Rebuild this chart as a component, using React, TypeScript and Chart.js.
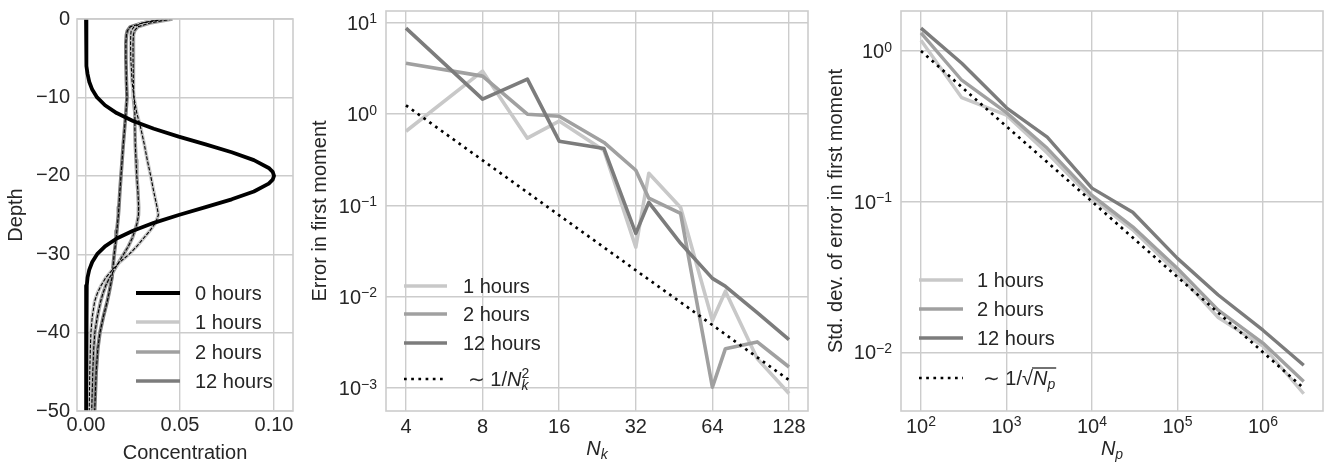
import React, { useEffect, useRef } from 'react';
import { Chart, registerables } from 'chart.js';

Chart.register(...registerables);

const FONT = '"Liberation Sans", Arial, "DejaVu Sans", sans-serif';
const TEXT = '#262626';
const GRID = '#cccccc';
const BLACK = '#000000';
const COL_1H = '#c8c8c8';
const COL_2H = '#a0a0a0';
const COL_12H = '#7c7c7c';

// ---------- Panel 1: concentration profiles ----------
const depth0h = [0, -4, -6, -7, -8, -9, -10, -11, -12, -13, -14, -15, -16, -17, -18, -19, -19.5, -20, -20.5, -21, -22, -23, -24, -25, -26, -27, -28, -29, -30, -31, -32, -33, -34, -36, -50];
const conc0h = [0, 0, 0.0004, 0.0008, 0.0017, 0.0033, 0.0059, 0.0101, 0.0163, 0.025, 0.0361, 0.0493, 0.0636, 0.0775, 0.0893, 0.0972, 0.0993, 0.1, 0.0993, 0.0972, 0.0893, 0.0775, 0.0636, 0.0493, 0.0361, 0.025, 0.0163, 0.0101, 0.0059, 0.0033, 0.0017, 0.0008, 0.0004, 0.0001, 0];
const depthLater = [0, -0.25, -0.5, -1, -1.5, -2, -3, -5, -8, -10, -12, -14, -16, -18, -20, -22, -24, -25, -26, -27, -28, -29, -30, -31, -32, -33, -34, -35, -36, -38, -40, -42, -45, -50];
const conc1h = [0.042, 0.035, 0.030, 0.0255, 0.024, 0.0238, 0.0237, 0.0238, 0.0245, 0.0255, 0.027, 0.0292, 0.031, 0.0326, 0.0344, 0.036, 0.0378, 0.0385, 0.037, 0.034, 0.0305, 0.027, 0.023, 0.018, 0.014, 0.0105, 0.008, 0.006, 0.0046, 0.0033, 0.0026, 0.0023, 0.002, 0.0017];
const conc2h = [0.046, 0.040, 0.034, 0.0275, 0.0258, 0.0252, 0.025, 0.025, 0.0252, 0.0255, 0.026, 0.026, 0.0262, 0.0266, 0.027, 0.0276, 0.028, 0.0279, 0.0272, 0.026, 0.0245, 0.0225, 0.020, 0.0175, 0.015, 0.0125, 0.0105, 0.009, 0.0078, 0.006, 0.0047, 0.0041, 0.0036, 0.003];
const conc12h = [0.044, 0.036, 0.030, 0.0235, 0.022, 0.0215, 0.0212, 0.0212, 0.0215, 0.0218, 0.0212, 0.0205, 0.0198, 0.0192, 0.0186, 0.018, 0.0175, 0.0172, 0.0168, 0.0164, 0.016, 0.0155, 0.015, 0.0146, 0.0142, 0.0138, 0.013, 0.0122, 0.0113, 0.0092, 0.0074, 0.0063, 0.0054, 0.0046];
const concTicks = [0, 0.05, 0.1];
const depthTicks = [-50, -40, -30, -20, -10, 0];
const profileLabels = ['0 hours', '1 hours', '2 hours', '12 hours'];

// ---------- Panel 2: error vs N_k ----------
const nk = [4, 8, 12, 16, 24, 32, 36, 48, 64, 72, 96, 128];
const err1h = [0.65, 2.96, 0.546, 0.84, 0.40, 0.035, 0.225, 0.095, 0.0055, 0.0115, 0.0021, 0.00087];
const err2h = [3.62, 2.61, 1.0, 0.95, 0.49, 0.243, 0.12, 0.082, 0.00102, 0.0027, 0.0032, 0.0017];
const err12h = [8.77, 1.46, 2.42, 0.506, 0.42, 0.0495, 0.108, 0.0385, 0.0159, 0.013, 0.0067, 0.0034];
const errRef = [1.25, 0.3125, 0.139, 0.078, 0.0347, 0.0195, 0.0154, 0.0087, 0.0049, 0.00386, 0.00217, 0.00122];
const nkTicks = [4, 8, 16, 32, 64, 128];
const errTickExps = [-3, -2, -1, 0, 1];

// ---------- Panel 3: std dev vs N_p ----------
const np = [1e2, 3e2, 1e3, 3e3, 1e4, 3e4, 1e5, 3e5, 1e6, 3e6];
const std1h = [1.18, 0.49, 0.375, 0.21, 0.105, 0.065, 0.0335, 0.017, 0.011, 0.0053];
const std2h = [1.32, 0.64, 0.39, 0.226, 0.11, 0.068, 0.036, 0.019, 0.0115, 0.0064];
const std12h = [1.42, 0.83, 0.42, 0.268, 0.123, 0.085, 0.042, 0.024, 0.014, 0.0082];
const stdRef = [1.0, 0.577, 0.316, 0.183, 0.1, 0.0577, 0.0316, 0.0183, 0.01, 0.00577];
const npTickExps = [2, 3, 4, 5, 6];
const stdTickExps = [-2, -1, 0];
const convLabels = ['1 hours', '2 hours', '12 hours'];

// ---------- helpers ----------
type Piece = { t: string; size?: number; dy?: number; italic?: boolean; stack?: boolean; over?: boolean };

const fontStr = (size: number, italic?: boolean) => `${italic ? 'italic ' : ''}${size}px ${FONT}`;

function drawRich(ctx: CanvasRenderingContext2D, pieces: Piece[], x: number, baseline: number, align: 'left' | 'center' | 'right', base = 20, color = TEXT) {
  ctx.save();
  let cx = 0;
  let lastStart = 0;
  const items: { p: Piece; size: number; start: number; w: number }[] = [];
  for (const p of pieces) {
    const size = p.size ?? base;
    ctx.font = fontStr(size, p.italic);
    const w = ctx.measureText(p.t).width;
    const start = p.stack ? lastStart : cx;
    items.push({ p, size, start, w });
    cx = Math.max(cx, start + w);
    if (!p.stack) lastStart = start;
  }
  const width = cx;
  const x0 = align === 'left' ? x : align === 'right' ? x - width : x - width / 2;
  ctx.fillStyle = color;
  ctx.textAlign = 'left';
  ctx.textBaseline = 'alphabetic';
  let oS = Infinity;
  let oE = -Infinity;
  for (const it of items) {
    ctx.font = fontStr(it.size, it.p.italic);
    ctx.fillText(it.p.t, x0 + it.start, baseline + (it.p.dy ?? 0));
    if (it.p.over) {
      oS = Math.min(oS, x0 + it.start);
      oE = Math.max(oE, x0 + it.start + it.w);
    }
  }
  if (oE > oS) {
    ctx.strokeStyle = color;
    ctx.lineWidth = 1.3;
    ctx.beginPath();
    ctx.moveTo(oS - 1, baseline - 0.86 * base);
    ctx.lineTo(oE + 1, baseline - 0.86 * base);
    ctx.stroke();
  }
  ctx.restore();
}

const powLabel = (e: number): Piece[] => [
  { t: '10' },
  { t: e < 0 ? '\u2212' + Math.abs(e) : String(e), size: 14, dy: -6.7 },
];

const pts = (xs: number[], ys: number[]) => xs.map((x, i) => ({ x, y: ys[i] }));

const line = (label: string, data: { x: number; y: number }[], color: string, width: number, dash: number[] = []) => ({
  label,
  data,
  borderColor: color,
  backgroundColor: color,
  borderWidth: width,
  borderDash: dash,
  borderJoinStyle: 'round' as const,
  pointRadius: 0,
  pointHoverRadius: 0,
  showLine: true,
  tension: 0,
  fill: false,
  clip: 0,
});

const spinePlugin = {
  id: 'spines',
  afterDatasetsDraw(chart: any) {
    const { ctx, chartArea: a } = chart;
    ctx.save();
    ctx.strokeStyle = GRID;
    ctx.lineWidth = 1.6;
    ctx.strokeRect(a.left, a.top, a.right - a.left, a.bottom - a.top);
    ctx.restore();
  },
};

type LegendItem = { color: string; width: number; dash?: number[]; pieces: Piece[]; textX: number; y: number };

const legendPlugin = (id: string, items: LegendItem[], x1: number, x2: number, canvasLeft: number) => ({
  id,
  afterDraw(chart: any) {
    const ctx: CanvasRenderingContext2D = chart.ctx;
    for (const it of items) {
      ctx.save();
      ctx.strokeStyle = it.color;
      ctx.lineWidth = it.width;
      ctx.setLineDash(it.dash ?? []);
      ctx.beginPath();
      ctx.moveTo(x1 - canvasLeft, it.y);
      ctx.lineTo(x2 - canvasLeft, it.y);
      ctx.stroke();
      ctx.restore();
      drawRich(ctx, it.pieces, it.textX - canvasLeft, it.y + 7.2, 'left');
    }
  },
});

type TickSpec = { values: number[]; labels: Piece[][] };

const tickPlugin = (id: string, xt: TickSpec | null, yt: TickSpec | null, xTitle: Piece[] | null) => ({
  id,
  afterDraw(chart: any) {
    const ctx: CanvasRenderingContext2D = chart.ctx;
    const a = chart.chartArea;
    if (xt) {
      xt.values.forEach((v, i) => {
        const px = chart.scales.x.getPixelForValue(v);
        drawRich(ctx, xt.labels[i], px, a.bottom + 22, 'center');
      });
    }
    if (yt) {
      yt.values.forEach((v, i) => {
        const py = chart.scales.y.getPixelForValue(v);
        drawRich(ctx, yt.labels[i], a.left - 9, py + 7.2, 'right');
      });
    }
    if (xTitle) {
      drawRich(ctx, xTitle, (a.left + a.right) / 2, 455, 'center');
    }
  },
});

const gridOpts = { color: GRID, lineWidth: 1.4, drawTicks: false };
const titleFont = { size: 20, family: FONT };

const baseOptions = (padRight: number) => ({
  animation: false as const,
  responsive: false,
  devicePixelRatio: 1,
  events: [] as any[],
  layout: { padding: { left: 0, top: 11, right: padRight, bottom: 0 } },
  plugins: { legend: { display: false }, tooltip: { enabled: false } },
});

// ---------- layout ----------
const P1 = { left: 0, width: 300, yw: 77, pr: 7 };
const P2 = { left: 304, width: 516, yw: 82, pr: 12 };
const P3 = { left: 820, width: 518, yw: 81, pr: 15 };

function config1(): any {
  const dash = [3.7, 1.6];
  return {
    type: 'scatter',
    data: {
      datasets: [
        line(profileLabels[0], pts(conc0h, depth0h), BLACK, 3.8),
        line('', pts(conc1h, depthLater), BLACK, 1.1, dash),
        line('', pts(conc2h, depthLater), BLACK, 1.1, dash),
        line('', pts(conc12h, depthLater), BLACK, 1.1, dash),
        line(profileLabels[1], pts(conc1h, depthLater), COL_1H, 3.6),
        line(profileLabels[2], pts(conc2h, depthLater), COL_2H, 3.6),
        line(profileLabels[3], pts(conc12h, depthLater), COL_12H, 3.6),
      ],
    },
    options: {
      ...baseOptions(P1.pr),
      scales: {
        x: {
          type: 'linear',
          min: -0.0048,
          max: 0.1101,
          afterBuildTicks: (s: any) => { s.ticks = concTicks.map((v) => ({ value: v })); },
          ticks: { font: titleFont, color: TEXT, padding: 2, autoSkip: false, maxRotation: 0, callback: (v: any) => Number(v).toFixed(2) },
          grid: gridOpts,
          border: { display: false },
          title: { display: true, text: 'Concentration', font: titleFont, color: TEXT, padding: { top: 4, bottom: 7 } },
          afterFit: (s: any) => { s.height = 61; },
        },
        y: {
          type: 'linear',
          min: -50,
          max: 0,
          afterBuildTicks: (s: any) => { s.ticks = depthTicks.map((v) => ({ value: v })); },
          ticks: { font: titleFont, color: TEXT, padding: 7, autoSkip: false, callback: (v: any) => (v < 0 ? '\u2212' + Math.abs(v) : String(v)) },
          grid: gridOpts,
          border: { display: false },
          title: { display: true, text: 'Depth', font: titleFont, color: TEXT, padding: { top: 4, bottom: 4 } },
          afterFit: (s: any) => { s.width = P1.yw; },
        },
      },
    },
    plugins: [
      spinePlugin,
      legendPlugin('leg1', [
        { color: BLACK, width: 3.8, pieces: [{ t: profileLabels[0] }], textX: 195, y: 293 },
        { color: COL_1H, width: 3.6, pieces: [{ t: profileLabels[1] }], textX: 195, y: 322 },
        { color: COL_2H, width: 3.6, pieces: [{ t: profileLabels[2] }], textX: 195, y: 352 },
        { color: COL_12H, width: 3.6, pieces: [{ t: profileLabels[3] }], textX: 195, y: 381 },
      ], 136, 180, P1.left),
    ],
  };
}

function config2(): any {
  const dot = [2.7, 4.5];
  return {
    type: 'scatter',
    data: {
      datasets: [
        line('ref', pts(nk, errRef), BLACK, 2.7, dot),
        line(convLabels[2], pts(nk, err12h), COL_12H, 3.6),
        line(convLabels[1], pts(nk, err2h), COL_2H, 3.6),
        line(convLabels[0], pts(nk, err1h), COL_1H, 3.6),
      ],
    },
    options: {
      ...baseOptions(P2.pr),
      scales: {
        x: {
          type: 'logarithmic',
          min: 3.339,
          max: 152,
          afterBuildTicks: (s: any) => { s.ticks = nkTicks.map((v) => ({ value: v })); },
          ticks: { display: false },
          grid: gridOpts,
          border: { display: false },
          afterFit: (s: any) => { s.height = 61; },
        },
        y: {
          type: 'logarithmic',
          min: 0.00056,
          max: 13.5,
          afterBuildTicks: (s: any) => { s.ticks = errTickExps.map((e) => ({ value: Math.pow(10, e) })); },
          ticks: { display: false },
          grid: gridOpts,
          border: { display: false },
          title: { display: true, text: 'Error in first moment', font: titleFont, color: TEXT, padding: { top: 4, bottom: 4 } },
          afterFit: (s: any) => { s.width = P2.yw; },
        },
      },
    },
    plugins: [
      spinePlugin,
      tickPlugin(
        'ticks2',
        { values: nkTicks, labels: nkTicks.map((v) => [{ t: String(v) }]) },
        { values: errTickExps.map((e) => Math.pow(10, e)), labels: errTickExps.map(powLabel) },
        [{ t: 'N', italic: true }, { t: 'k', size: 14, dy: 4, italic: true }],
      ),
      legendPlugin('leg2', [
        { color: COL_1H, width: 3.6, pieces: [{ t: convLabels[0] }], textX: 463, y: 286 },
        { color: COL_2H, width: 3.6, pieces: [{ t: convLabels[1] }], textX: 463, y: 314 },
        { color: COL_12H, width: 3.6, pieces: [{ t: convLabels[2] }], textX: 463, y: 343 },
        {
          color: BLACK, width: 2.7, dash: dot, textX: 468, y: 379,
          pieces: [
            { t: '\u223C 1/' },
            { t: 'N', italic: true },
            { t: 'k', size: 14, dy: 4, italic: true },
            { t: '2', size: 14, dy: -8, stack: true },
          ],
        },
      ], 404, 447, P2.left),
    ],
  };
}

function config3(): any {
  const dot = [2.7, 4.5];
  return {
    type: 'scatter',
    data: {
      datasets: [
        line('ref', pts(np, stdRef), BLACK, 2.7, dot),
        line(convLabels[2], pts(np, std12h), COL_12H, 3.4),
        line(convLabels[1], pts(np, std2h), COL_2H, 3.4),
        line(convLabels[0], pts(np, std1h), COL_1H, 3.4),
      ],
    },
    options: {
      ...baseOptions(P3.pr),
      scales: {
        x: {
          type: 'logarithmic',
          min: 58.4,
          max: 5.04e6,
          afterBuildTicks: (s: any) => { s.ticks = npTickExps.map((e) => ({ value: Math.pow(10, e) })); },
          ticks: { display: false },
          grid: gridOpts,
          border: { display: false },
          afterFit: (s: any) => { s.height = 61; },
        },
        y: {
          type: 'logarithmic',
          min: 0.00407,
          max: 1.845,
          afterBuildTicks: (s: any) => { s.ticks = stdTickExps.map((e) => ({ value: Math.pow(10, e) })); },
          ticks: { display: false },
          grid: gridOpts,
          border: { display: false },
          title: { display: true, text: 'Std. dev. of error in first moment', font: titleFont, color: TEXT, padding: { top: 4, bottom: 4 } },
          afterFit: (s: any) => { s.width = P3.yw; },
        },
      },
    },
    plugins: [
      spinePlugin,
      tickPlugin(
        'ticks3',
        { values: npTickExps.map((e) => Math.pow(10, e)), labels: npTickExps.map(powLabel) },
        { values: stdTickExps.map((e) => Math.pow(10, e)), labels: stdTickExps.map(powLabel) },
        [{ t: 'N', italic: true }, { t: 'p', size: 14, dy: 4, italic: true }],
      ),
      legendPlugin('leg3', [
        { color: COL_1H, width: 3.4, pieces: [{ t: convLabels[0] }], textX: 977, y: 280 },
        { color: COL_2H, width: 3.4, pieces: [{ t: convLabels[1] }], textX: 977, y: 309 },
        { color: COL_12H, width: 3.4, pieces: [{ t: convLabels[2] }], textX: 977, y: 338 },
        {
          color: BLACK, width: 2.7, dash: dot, textX: 983, y: 378,
          pieces: [
            { t: '\u223C 1/\u221A' },
            { t: 'N', italic: true, over: true },
            { t: 'p', size: 14, dy: 4, italic: true, over: true },
          ],
        },
      ], 919, 963, P3.left),
    ],
  };
}

export default function App() {
  const r1 = useRef<HTMLCanvasElement>(null);
  const r2 = useRef<HTMLCanvasElement>(null);
  const r3 = useRef<HTMLCanvasElement>(null);

  useEffect(() => {
    Chart.defaults.font.family = FONT;
    Chart.defaults.color = TEXT;
    const charts = [
      new Chart(r1.current as HTMLCanvasElement, config1()),
      new Chart(r2.current as HTMLCanvasElement, config2()),
      new Chart(r3.current as HTMLCanvasElement, config3()),
    ];
    return () => charts.forEach((c) => c.destroy());
  }, []);

  const cs = (left: number, width: number): React.CSSProperties => ({ position: 'absolute', left, top: 0, width, height: 472 });

  return (
    <div style={{ position: 'absolute', left: 0, top: 0, width: 1338, height: 472, background: '#ffffff', overflow: 'hidden' }}>
      <canvas ref={r1} width={P1.width} height={472} style={cs(P1.left, P1.width)} />
      <canvas ref={r2} width={P2.width} height={472} style={cs(P2.left, P2.width)} />
      <canvas ref={r3} width={P3.width} height={472} style={cs(P3.left, P3.width)} />
    </div>
  );
}
